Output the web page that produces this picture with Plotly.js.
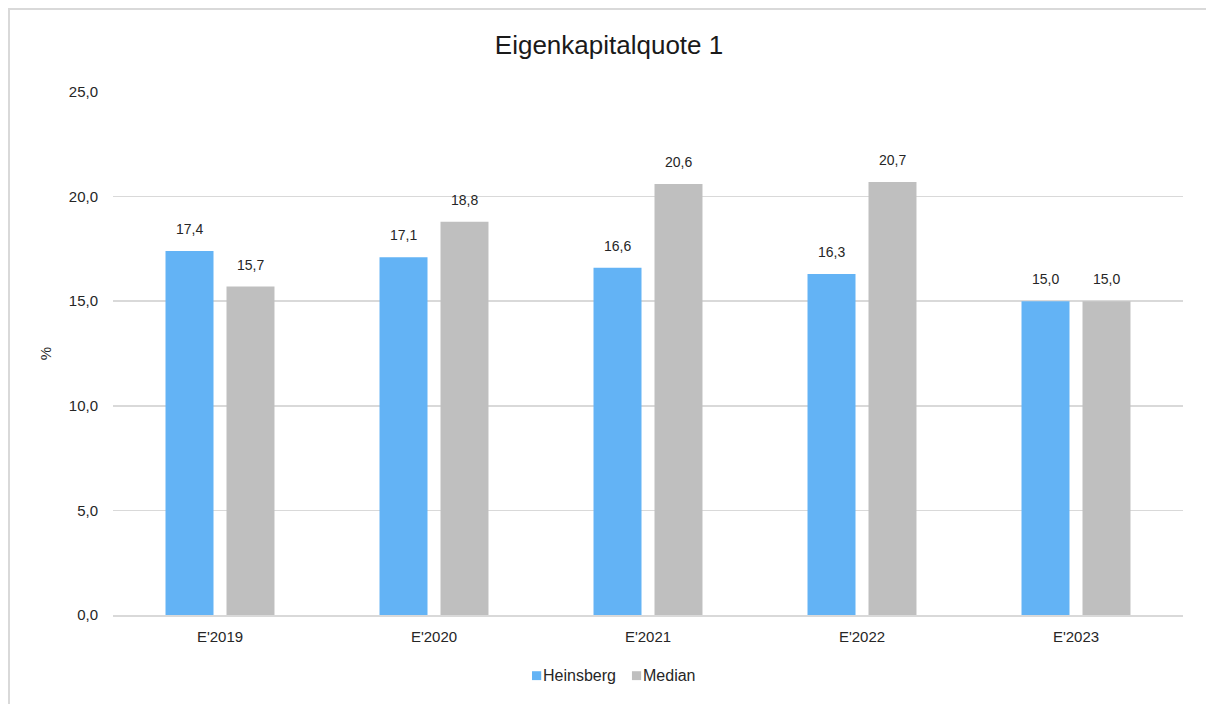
<!DOCTYPE html>
<html><head><meta charset="utf-8">
<script src="https://cdn.plot.ly/plotly-3.0.1.min.js"></script>
<style>
html,body{margin:0;padding:0;background:#fff;}
#frame{position:absolute;left:8px;top:8px;width:1198px;height:696px;border-left:2px solid #d9d9d9;border-top:2px solid #d9d9d9;box-sizing:border-box;}
#chart{position:absolute;left:0;top:0;width:1206px;height:704px;}
</style></head>
<body>
<div id="chart"></div>
<div id="frame"></div>
<script>
const categories = ["E'2019","E'2020","E'2021","E'2022","E'2023"];
const heinsberg = [17.4,17.1,16.6,16.3,15.0];
const median = [15.7,18.8,20.6,20.7,15.0];
const seriesNames = ["Heinsberg","Median"];
const colors = ["#63b3f5","#bfbfbf"];
const fmt = v => v.toFixed(1).replace('.',',');
const FONT = 'Liberation Sans, Arial, sans-serif';
const series = [heinsberg, median];
const traces = series.map((vals,i)=>({
  type:'bar', name:seriesNames[i], x:categories, y:vals,
  marker:{color:colors[i]}, offsetgroup:String(i),
  hoverinfo:'x+y'
}));
const barGap = 0.43, groupGap = 0.213;
const slot = (1-barGap)/2;
const annotations = [];
series.forEach((vals,i)=>{
  vals.forEach((v,j)=>{
    const off = (i===0 ? -slot/2 : slot/2);
    annotations.push({xref:'x', yref:'y', x:j+off, y:v, text:fmt(v), showarrow:false,
      yanchor:'middle', yshift:22, font:{family:FONT, size:14, color:'#262626'}});
  });
});
// custom legend (positions in paper units)
const legX = [[0.3916,0.4002,0.3999],[0.4850,0.4936,0.4934]];
const shapes = [];
seriesNames.forEach((n,i)=>{
  shapes.push({type:'rect', xref:'paper', yref:'paper', x0:legX[i][0], x1:legX[i][1], y0:-0.1245, y1:-0.1075,
    fillcolor:colors[i], line:{width:0}});
  annotations.push({xref:'paper', yref:'paper', x:legX[i][2], y:-0.1166, xanchor:'left', yanchor:'middle', showarrow:false,
    text:n, font:{family:FONT, size:16, color:'#262626'}});
});
const layout = {
  width:1206, height:704,
  margin:{l:113, r:23, t:92, b:89},
  paper_bgcolor:'rgba(0,0,0,0)', plot_bgcolor:'#fff',
  separators:',.',
  font:{family:FONT, color:'#262626', size:15},
  title:{text:'Eigenkapitalquote 1', x:0.505, xanchor:'center', y:0.936, yanchor:'middle', font:{size:26, color:'#1a1a1a'}},
  barmode:'group', bargap:barGap, bargroupgap:groupGap,
  xaxis:{type:'category', showgrid:false, showline:true, linecolor:'#d9d9d9', linewidth:1.5, ticks:'', ticklabelstandoff:7, tickfont:{size:15}},
  yaxis:{range:[0,25], dtick:5, tickformat:'.1f', showgrid:true, gridcolor:'#d9d9d9', gridwidth:1.5, zeroline:false, showline:false, ticks:'', ticklabelstandoff:14, tickfont:{size:15},
    title:{text:'%', standoff:13, font:{size:15}}},
  showlegend:false,
  shapes:shapes,
  annotations:annotations
};
Plotly.newPlot('chart', traces, layout, {displayModeBar:false, staticPlot:true});
</script>
</body></html>
